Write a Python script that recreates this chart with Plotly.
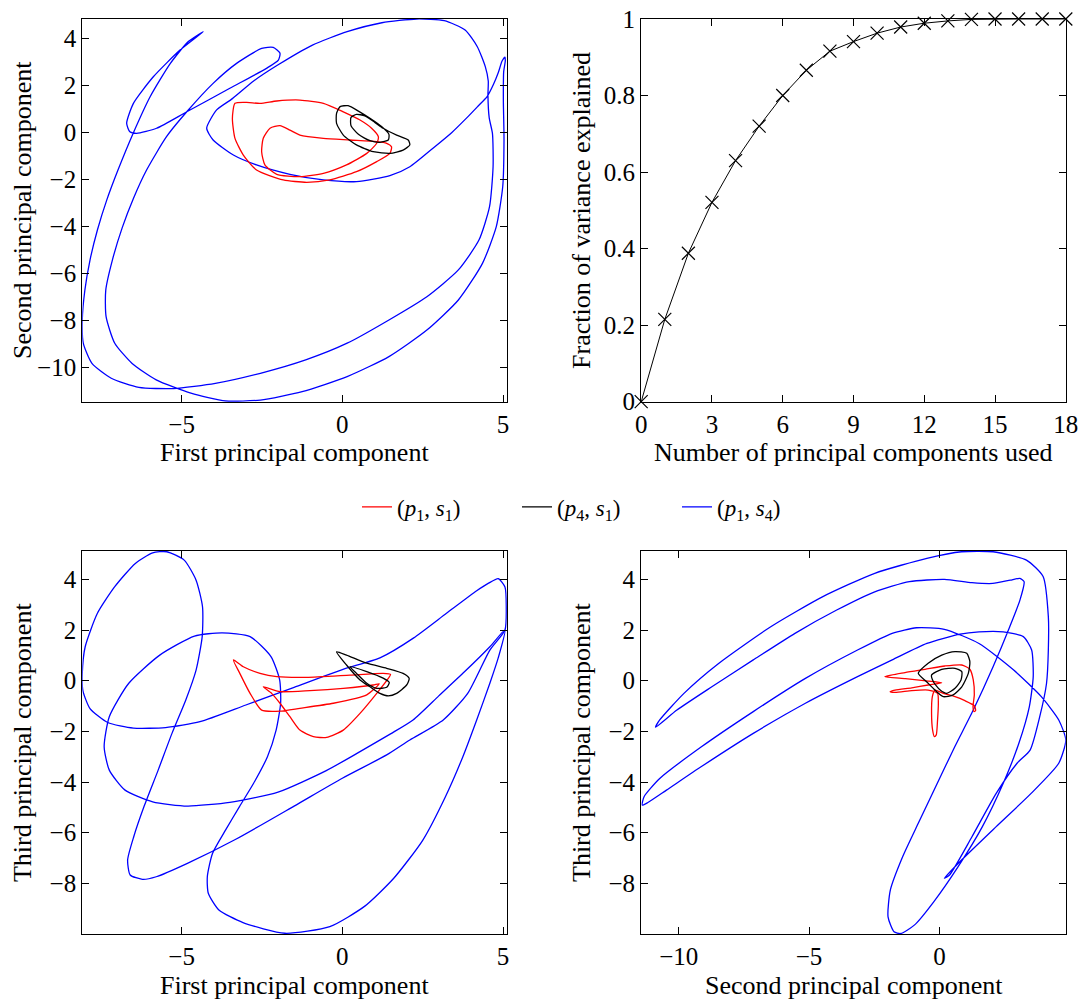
import plotly.graph_objects as go

# ---------------- data ----------------
# Top-left: first vs second principal component
tl_blue_x = [-4.33,-5.05,-5.88,-6.50,-6.71,-6.61,-6.40,-5.78,-4.84,-3.50,-2.36,-1.99,-1.94,-2.15,-2.51,-3.29,-4.02,-4.84,-5.47,-6.09,
             -6.50,-6.85,-7.15,-7.36,-7.35,-7.08,-6.54,-5.79,-4.71,-3.63,-2.55,-1.25,0.15,1.45,2.63,3.61,4.36,4.79,4.99,5.03,
             5.01,5.02,5.07,5.06,4.97,4.85,4.70,4.51,4.20,3.87,3.40,2.83,2.10,1.48,0.44,-0.59,-1.63,-2.67,-3.39,-4.02,
             -4.22,-3.91,-3.42,-2.76,-2.01,-0.93,0.15,1.23,2.31,3.17,3.82,4.20,4.45,4.54,4.53,4.57,4.67,4.69,4.58,4.25,
             3.61,2.63,1.45,0.15,-1.14,-2.55,-3.95,-5.25,-6.33,-7.19,-7.79,-8.06,-8.09,-8.01,-7.85,-7.62,-7.33,-6.98,-6.50,-5.98,
             -5.35,-4.80,-4.33]
tl_blue_y = [4.30,3.52,2.38,1.25,0.40,0.04,-0.03,0.19,0.89,1.89,2.74,3.09,3.38,3.63,3.59,2.95,2.10,0.89,-0.17,-1.59,
             -2.80,-4.05,-5.40,-6.70,-7.83,-8.96,-9.82,-10.52,-11.09,-11.42,-11.38,-11.02,-10.38,-9.53,-8.40,-7.12,-5.56,-4.00,-2.30,-0.31,
             1.39,2.60,3.05,3.22,3.05,2.55,2.05,1.55,1.10,0.63,0.00,-0.65,-1.45,-1.83,-2.08,-2.01,-1.77,-1.37,-0.95,-0.31,
             0.19,0.97,1.45,2.20,2.88,3.73,4.30,4.68,4.84,4.77,4.37,3.66,2.80,2.20,1.60,0.63,-0.03,-1.45,-3.15,-4.57,
             -5.84,-6.98,-7.97,-8.96,-9.67,-10.24,-10.67,-10.89,-10.84,-10.45,-9.82,-8.96,-7.97,-6.70,-5.42,-4.14,-2.87,-1.59,0.00,1.53,
             2.95,3.87,4.30]
tl_red_x = [-3.34,-2.98,-2.56,-2.04,-1.32,-0.59,0.03,0.55,0.91,1.12,1.07,0.76,0.13,-0.59,-1.32,-2.04,-2.41,-2.51,-2.46,-2.25,
            -1.94,-1.63,-1.32,-0.59,0.24,1.07,1.38,1.53,1.48,1.07,0.44,-0.39,-1.11,-1.84,-2.67,-3.08,-3.34,-3.42,-3.34]
tl_red_y = [1.25,1.29,1.25,1.35,1.39,1.25,0.89,0.54,0.19,-0.17,-0.45,-0.88,-1.37,-1.73,-1.87,-1.77,-1.37,-0.81,-0.24,0.19,
            0.30,0.11,-0.10,-0.24,-0.31,-0.38,-0.45,-0.60,-0.88,-1.23,-1.66,-2.01,-2.11,-2.01,-1.59,-0.95,-0.24,0.61,1.25]
tl_black_x = [1.27,1.69,2.05,2.10,1.89,1.48,0.96,0.44,0.03,-0.18,-0.18,-0.07,0.18,0.50,0.86,1.22,1.45,1.43,1.17,0.86,
              0.50,0.27,0.27,0.44,0.70,1.01,1.27]
tl_black_y = [0.19,-0.10,-0.31,-0.52,-0.74,-0.88,-0.81,-0.52,-0.10,0.40,0.82,1.11,1.15,0.92,0.61,0.26,-0.07,-0.31,-0.41,-0.34,
              -0.07,0.30,0.65,0.78,0.72,0.44,0.19]

# Top-right: fraction of variance explained
n_components = list(range(0, 19))
variance_fraction = [0.0, 0.215, 0.388, 0.521, 0.630, 0.720, 0.800, 0.866, 0.916, 0.941, 0.963, 0.979, 0.989, 0.995,
                     0.999, 1.0, 1.0, 1.0, 1.0]

# Bottom-left: first vs third principal component
bl_blue_x = [5.06,5.10,5.06,4.85,4.55,4.18,3.24,2.21,1.17,0.00,-1.50,-3.00,-4.43,-5.50,-6.50,-7.30,-7.85,-8.07,-8.09,-8.00,
             -7.62,-7.08,-6.44,-5.90,-5.46,-4.92,-4.55,-4.35,-4.36,-4.55,-4.87,-5.30,-5.73,-6.17,-6.49,-6.68,-6.60,-6.22,-5.79,-4.82,
             -3.30,-1.50,0.00,1.38,2.10,3.14,3.90,4.59,5.06,None,
             5.06,4.85,4.59,4.18,3.75,3.20,2.50,1.60,0.70,-0.39,-1.79,-3.09,-3.84,-4.17,-4.20,-4.04,-3.63,-3.20,-2.76,-2.33,
             -2.06,-1.92,-1.95,-2.22,-2.87,-3.74,-4.60,-5.68,-6.65,-7.25,-7.41,-7.25,-6.76,-5.90,-4.82,-3.50,-2.00,-0.50,0.55,1.50,
             2.20,3.00,3.80,4.59,5.06]
bl_blue_y = [2.00,2.92,3.70,4.03,3.85,3.55,2.66,1.68,0.90,0.44,-0.26,-0.96,-1.62,-1.85,-1.87,-1.65,-1.10,-0.40,0.29,1.34,
             2.66,3.71,4.63,5.05,5.09,4.76,3.97,2.92,1.74,0.42,-0.76,-2.08,-3.53,-4.97,-6.16,-7.08,-7.67,-7.84,-7.74,-7.21,
             -6.25,-4.95,-3.85,-2.93,-2.34,-1.55,-0.50,1.21,2.00,None,
             2.00,0.90,-0.10,-1.55,-3.00,-4.60,-6.30,-7.80,-8.90,-9.71,-9.97,-9.55,-9.05,-8.39,-7.74,-6.82,-5.89,-4.97,-4.05,-3.00,
             -1.95,-0.89,0.03,0.95,1.74,1.89,1.76,1.01,-0.11,-1.42,-2.61,-3.53,-4.32,-4.78,-4.95,-4.80,-4.40,-3.55,-2.80,-2.10,
             -1.55,-0.60,0.35,1.34,2.00]
bl_red_x = [-3.39,-3.08,-2.56,-2.04,-1.11,0.24,1.27,1.50,1.43,1.07,0.55,0.03,-0.49,-0.90,-1.32,-1.63,-1.94,-2.20,-2.46,-1.94,
            -1.01,0.03,0.96,1.15,0.76,-0.28,-1.32,-1.94,-2.51,-2.87,-3.19,-3.39]
bl_red_y = [0.82,0.55,0.29,0.16,0.13,0.22,0.29,0.25,0.09,-0.50,-1.29,-1.95,-2.24,-2.21,-1.95,-1.42,-0.89,-0.50,-0.24,-0.43,
            -0.39,-0.30,-0.17,-0.12,-0.56,-0.89,-1.09,-1.20,-1.16,-0.50,0.29,0.82]
bl_black_x = [-0.18,0.13,0.76,1.38,1.89,2.08,2.00,1.69,1.43,1.17,0.86,0.55,0.13,-0.18,None,
              0.24,0.76,1.27,1.46,1.38,1.07,0.76,0.44,0.24]
bl_black_y = [1.14,1.01,0.69,0.49,0.29,0.09,-0.17,-0.50,-0.60,-0.50,-0.24,0.03,0.62,1.14,None,
              0.55,0.36,0.10,-0.07,-0.26,-0.30,-0.10,0.29,0.55]

# Bottom-right: second vs third principal component
br_blue_x = [-10.89,-10.07,-8.73,-7.14,-5.54,-3.94,-2.48,-1.15,0.19,1.25,2.05,2.72,3.09,3.25,3.09,2.70,2.06,1.30,0.59,-0.08,
             -0.81,-1.41,-1.88,-1.97,-1.74,-1.48,-0.95,-0.21,0.72,1.65,2.45,3.05,3.45,3.60,3.54,3.22,2.45,1.52,0.79,-0.48,
             -1.81,-3.14,-5.14,-7.14,-9.13,-10.47,-11.20,-11.40,-11.33,-10.73,-9.13,-7.14,-5.14,-3.14,-1.81,-0.88,0.19,1.52,2.85,3.91,
             4.58,4.85,4.58,3.52,2.18,0.85,0.19,0.39,1.25,2.18,2.98,3.48,3.85,4.11,4.18,4.18,3.98,3.34,2.06,0.85,
             -0.48,-2.48,-4.47,-6.47,-8.47,-9.80,-10.73,-10.89]
br_blue_y = [-1.84,-1.16,-0.24,0.82,1.87,2.79,3.51,3.91,4.00,3.87,3.84,3.97,4.04,3.91,3.18,2.13,0.55,-1.16,-2.61,-4.05,
             -5.63,-6.95,-8.26,-9.32,-9.91,-9.98,-9.64,-8.72,-7.34,-5.76,-4.05,-2.47,-1.03,0.16,1.21,1.74,1.93,1.93,1.84,1.47,
             0.82,0.16,-0.89,-2.08,-3.39,-4.32,-4.82,-4.91,-4.58,-3.86,-2.61,-1.22,0.09,1.21,1.87,2.09,2.03,1.47,0.42,-0.63,
             -1.55,-2.34,-3.26,-4.45,-5.76,-7.08,-7.80,-7.67,-6.16,-4.45,-3.26,-2.74,-1.42,-0.11,1.21,2.53,4.11,4.76,5.09,5.09,
             4.83,4.24,3.32,2.13,0.68,-0.50,-1.55,-1.84]
br_red_x = [-2.09,-1.32,-0.55,0.21,0.86,1.17,1.30,1.34,1.29,1.33,1.39,1.34,0.98,0.60,0.15,-0.17,-0.27,-0.30,-0.26,-0.19,
            -0.12,-0.07,-0.04,-0.07,-0.43,-1.06,-1.70,-1.89,-1.70,-1.06,-0.43,0.09,-0.60,-1.30,-2.09]
br_red_y = [0.16,0.32,0.45,0.58,0.62,0.45,0.03,-0.56,-1.03,-1.22,-1.18,-0.99,-0.79,-0.63,-0.50,-0.37,-0.63,-1.29,-1.95,-2.21,
            -2.14,-1.55,-0.89,-0.50,-0.37,-0.39,-0.46,-0.43,-0.37,-0.28,-0.17,-0.08,0.00,0.08,0.16]
br_black_x = [-0.81,-0.43,0.09,0.60,1.05,1.17,1.11,0.86,0.53,0.15,-0.17,-0.49,-0.81,None,
              -0.30,0.09,0.60,0.86,0.83,0.60,0.28,0.03,-0.23,-0.30]
br_black_y = [0.29,0.69,1.01,1.15,1.08,0.75,0.29,-0.24,-0.56,-0.63,-0.37,-0.04,0.29,None,
              0.22,0.45,0.49,0.36,0.03,-0.30,-0.50,-0.37,-0.04,0.22]

legend_labels = ["(<i>p</i><sub>1</sub>, <i>s</i><sub>1</sub>)",
                 "(<i>p</i><sub>4</sub>, <i>s</i><sub>1</sub>)",
                 "(<i>p</i><sub>1</sub>, <i>s</i><sub>4</sub>)"]
colors = {"red": "#ff0000", "black": "#000000", "blue": "#0000ff"}

# ---------------- figure ----------------
W, H = 1090, 1003
fig = go.Figure()
SERIF = "Liberation Serif, Times New Roman, serif"


def curve(x, y, color, xa, ya, name, show):
    fig.add_trace(go.Scatter(
        x=x, y=y, mode="lines", xaxis=xa, yaxis=ya, name=name,
        legendgroup=name, showlegend=show, connectgaps=False,
        line=dict(color=color, width=1.3, shape="spline", smoothing=0.6),
        hoverinfo="skip"))


curve(tl_blue_x, tl_blue_y, colors["blue"], "x", "y", legend_labels[2], False)
curve(tl_red_x, tl_red_y, colors["red"], "x", "y", legend_labels[0], True)
curve(tl_black_x, tl_black_y, colors["black"], "x", "y", legend_labels[1], True)

fig.add_trace(go.Scatter(
    x=n_components, y=variance_fraction, mode="lines+markers", xaxis="x2", yaxis="y2",
    showlegend=False, cliponaxis=False, line=dict(color="black", width=1),
    marker=dict(symbol="x-thin-open", size=13, line=dict(color="black", width=1.2)),
    hoverinfo="skip"))

curve(bl_blue_x, bl_blue_y, colors["blue"], "x3", "y3", legend_labels[2], True)
curve(bl_red_x, bl_red_y, colors["red"], "x3", "y3", legend_labels[0], False)
curve(bl_black_x, bl_black_y, colors["black"], "x3", "y3", legend_labels[1], False)

curve(br_blue_x, br_blue_y, colors["blue"], "x4", "y4", legend_labels[2], False)
curve(br_red_x, br_red_y, colors["red"], "x4", "y4", legend_labels[0], False)
curve(br_black_x, br_black_y, colors["black"], "x4", "y4", legend_labels[1], False)


def px_x(p):
    return p / W


def px_y(p):
    return 1 - p / H


left_dom = [px_x(82.3), px_x(506.9)]
right_dom = [px_x(641.2), px_x(1065.8)]
top_dom = [px_y(401.7), px_y(19)]
bot_dom = [px_y(934), px_y(551)]

axis_common = dict(showline=True, linecolor="black", linewidth=1.3, mirror="ticks",
                   ticks="inside", ticklen=7, tickwidth=1, tickcolor="black",
                   showgrid=False, zeroline=False,
                   tickfont=dict(family=SERIF, size=25, color="black"),
                   automargin=False)

fig.update_layout(
    width=W, height=H, margin=dict(l=0, r=0, t=0, b=0),
    paper_bgcolor="white", plot_bgcolor="white",
    font=dict(family=SERIF, color="black"),
    xaxis=dict(domain=left_dom, anchor="y", range=[-8.09, 5.12], tickvals=[-5, 0, 5], **axis_common),
    yaxis=dict(domain=top_dom, anchor="x", range=[-11.45, 4.84], tickvals=[-10, -8, -6, -4, -2, 0, 2, 4], **axis_common),
    xaxis2=dict(domain=right_dom, anchor="y2", range=[0, 18], tickvals=[0, 3, 6, 9, 12, 15, 18], **axis_common),
    yaxis2=dict(domain=top_dom, anchor="x2", range=[0, 1], tickvals=[0, 0.2, 0.4, 0.6, 0.8, 1],
                ticktext=["0", "0.2", "0.4", "0.6", "0.8", "1"], **axis_common),
    xaxis3=dict(domain=left_dom, anchor="y3", range=[-8.09, 5.12], tickvals=[-5, 0, 5], **axis_common),
    yaxis3=dict(domain=bot_dom, anchor="x3", range=[-10.0, 5.12], tickvals=[-8, -6, -4, -2, 0, 2, 4], **axis_common),
    xaxis4=dict(domain=right_dom, anchor="y4", range=[-11.44, 4.85], tickvals=[-10, -5, 0], **axis_common),
    yaxis4=dict(domain=bot_dom, anchor="x4", range=[-10.0, 5.12], tickvals=[-8, -6, -4, -2, 0, 2, 4], **axis_common),
    legend=dict(orientation="h", x=px_x(357), xanchor="left", y=px_y(507), yanchor="middle",
                font=dict(family=SERIF, size=23, color="black"), bgcolor="rgba(0,0,0,0)",
                entrywidth=115, entrywidthmode="pixels", traceorder="normal"),
)

title_font = dict(family=SERIF, size=26, color="black")
titles = [
    ("First principal component", (82.3 + 506.9) / 2, 453, 0),
    ("Second principal component", 22.6, 210.4, -90),
    ("Number of principal components used", (641.2 + 1065.8) / 2, 453, 0),
    ("Fraction of variance explained", 581.5, 210.4, -90),
    ("First principal component", (82.3 + 506.9) / 2, 985, 0),
    ("Third principal component", 22.6, 742.5, -90),
    ("Second principal component", (641.2 + 1065.8) / 2, 985, 0),
    ("Third principal component", 581.5, 742.5, -90),
]
for text, cx, cy, ang in titles:
    fig.add_annotation(text=text, x=px_x(cx), y=px_y(cy), xref="paper", yref="paper",
                       showarrow=False, textangle=ang, font=title_font,
                       xanchor="center", yanchor="middle")

fig.write_html("out.html")
